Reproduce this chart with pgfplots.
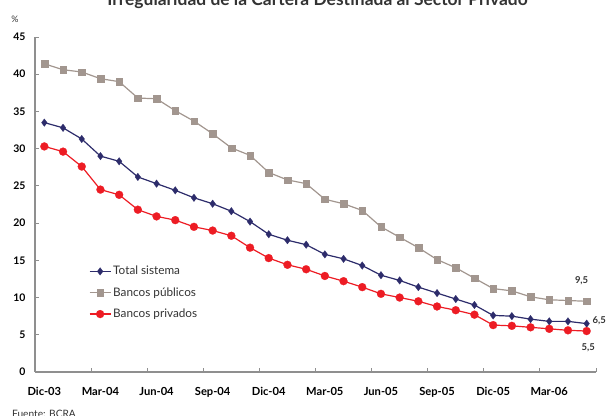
\documentclass[border=0pt]{standalone}
\usepackage{fontspec}
\setmainfont{Lato}
\usepackage{pgfplots}
\usepackage{pgfplotstable}
\pgfplotsset{compat=1.18}

\definecolor{navy}{HTML}{2D2C6B}
\definecolor{taupe}{HTML}{A2968F}
\definecolor{rojo}{HTML}{ED1C24}
\definecolor{ejegris}{HTML}{8F8F8F}
\definecolor{texto}{HTML}{333333}

% Irregularidad (%) por grupo de bancos, dic-03 a may-06
\pgfplotstableread{
i  total publicos privados
0  33.5  41.4  30.3
1  32.8  40.6  29.6
2  31.3  40.3  27.6
3  29.0  39.4  24.5
4  28.3  39.0  23.8
5  26.2  36.8  21.8
6  25.3  36.7  20.9
7  24.4  35.1  20.4
8  23.4  33.7  19.5
9  22.6  32.0  19.0
10 21.6  30.1  18.3
11 20.2  29.1  16.7
12 18.5  26.8  15.3
13 17.7  25.8  14.4
14 17.1  25.3  13.8
15 15.8  23.2  12.9
16 15.2  22.6  12.2
17 14.3  21.7  11.4
18 13.0  19.5  10.5
19 12.3  18.1  10.0
20 11.4  16.7  9.5
21 10.6  15.1  8.8
22 9.8   14.0  8.3
23 9.0   12.6  7.7
24 7.6   11.2  6.3
25 7.5   10.9  6.2
26 7.1   10.1  6.0
27 6.8   9.7   5.8
28 6.8   9.6   5.6
29 6.5   9.5   5.5
}\datos

\begin{document}
\begin{tikzpicture}
\begin{axis}[
  scale only axis,
  width=561bp, height=335bp,
  xmin=-0.5, xmax=29.5, ymin=0, ymax=45,
  axis lines=left,
  axis line style={ejegris, line width=1.1pt, -},
  tick align=inside,
  tick style={ejegris, line width=0.9pt},
  major tick length=4bp,
  xtick={2.5,5.5,...,29.5},
  xticklabels={},
  extra x ticks={0,3,...,27},
  extra x tick labels={Dic-03,Mar-04,Jun-04,Sep-04,Dic-04,Mar-05,Jun-05,Sep-05,Dic-05,Mar-06},
  extra x tick style={major tick length=0pt},
  ytick={0,5,...,45},
  /pgf/number format/assume math mode=true,
  ticklabel style={font=\fontsize{10.5}{12}\selectfont\bfseries, text=black},
  x tick label style={font=\fontsize{11.2}{13}\selectfont\bfseries, yshift=-12bp},
  y tick label style={xshift=-6bp},
  clip=false,
  legend style={
    at={(rel axis cs:0.096,0.322)}, anchor=north west,
    draw=none, fill=none, inner sep=0pt,
    font=\fontsize{11.8}{13}\selectfont, text=texto,
    row sep=7.2bp,
    nodes={inner sep=2pt},
  },
  legend cell align=left,
  legend image code/.code={
    \draw[mark repeat=2, mark phase=2, #1]
      plot coordinates {(0cm,0cm) (0.37cm,0cm) (0.74cm,0cm)};
  },
]
\addplot[navy, line width=1.2bp, mark=diamond*, mark size=3.8bp,
  mark options={fill=navy, draw=navy, line width=0.2bp}]
  table[x=i, y=total] {\datos};
\addlegendentry{Total sistema}
\addplot[taupe, line width=1.2bp, mark=square*, mark size=3.3bp,
  mark options={fill=taupe, draw=taupe, line width=0.2bp}]
  table[x=i, y=publicos] {\datos};
\addlegendentry{Bancos públicos}
\addplot[rojo, line width=1.2bp, mark=*, mark size=4bp,
  mark options={fill=rojo, draw=rojo, line width=0.2bp}]
  table[x=i, y=privados] {\datos};
\addlegendentry{Bancos privados}

% valores finales
\node[font=\fontsize{9.5}{11}\selectfont\bfseries, text=texto] at (axis cs:28.73,12.3) {9,5};
\node[font=\fontsize{9.5}{11}\selectfont\bfseries, text=texto] at (axis cs:29.67,6.83) {6,5};
\node[font=\fontsize{9.5}{11}\selectfont\bfseries, text=texto] at (axis cs:29.08,3.2) {5,5};

% unidad, título y fuente
\node[font=\fontsize{9}{10}\selectfont, text=texto] at ([xshift=-20bp, yshift=18bp]rel axis cs:0,1) {\%};
\node[font=\fontsize{17.5}{20}\selectfont\bfseries, text=texto, anchor=base, inner sep=0pt]
  at ([xshift=2bp, yshift=31bp]rel axis cs:0.5,1) {Irregularidad de la Cartera Destinada al Sector Privado};
\node[font=\fontsize{10.2}{12}\selectfont, text=texto, anchor=base west, inner sep=0pt]
  at ([xshift=-23bp, yshift=-46bp]rel axis cs:0,0) {Fuente: BCRA};

\coordinate (esqA) at ([xshift=-35bp, yshift=-44bp]rel axis cs:0,0);
\coordinate (esqB) at ([xshift=12bp, yshift=37bp]rel axis cs:1,1);
\end{axis}
\pgfresetboundingbox
\path[use as bounding box] (esqA) rectangle (esqB);
\end{tikzpicture}
\end{document}
